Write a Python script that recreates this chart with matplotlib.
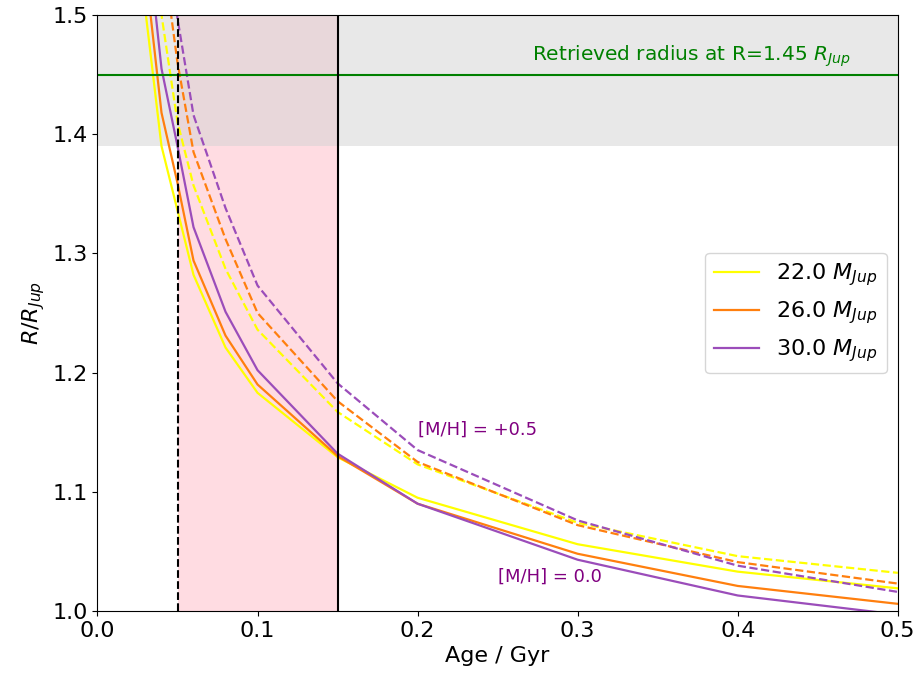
import numpy as np
import matplotlib
matplotlib.use('Agg')
import matplotlib.pyplot as plt

# --- model grid (age in Gyr) ---
ages = [0.03, 0.04, 0.05, 0.06, 0.08, 0.10, 0.15, 0.20, 0.30, 0.40, 0.50]

# solar metallicity [M/H] = 0.0
r22_solar = [1.503, 1.390, 1.336, 1.282, 1.221, 1.183, 1.129, 1.095, 1.056, 1.033, 1.019]
r26_solar = [1.538, 1.418, 1.359, 1.294, 1.231, 1.190, 1.130, 1.090, 1.048, 1.021, 1.006]
r30_solar = [1.580, 1.455, 1.390, 1.322, 1.251, 1.202, 1.132, 1.090, 1.043, 1.013, 0.997]

# metal rich [M/H] = +0.5
r22_rich = [1.600, 1.500, 1.410, 1.357, 1.287, 1.236, 1.167, 1.123, 1.074, 1.046, 1.032]
r26_rich = [1.660, 1.560, 1.460, 1.385, 1.312, 1.250, 1.176, 1.125, 1.072, 1.041, 1.023]
r30_rich = [1.720, 1.600, 1.497, 1.416, 1.338, 1.273, 1.191, 1.135, 1.076, 1.038, 1.016]

masas = ['22.0', '26.0', '30.0']
colores = ['#ffff00', '#ff7f0e', '#9b4dba']

r_retrieved = 1.45
r_low = 1.39
age_min, age_max = 0.05, 0.15

fig = plt.figure(figsize=(9.17, 6.8), dpi=100)
ax = fig.add_axes([0.1063, 0.1015, 0.8727, 0.8765])

# bandas (gris encima del rosa)
ax.axvspan(age_min, age_max, color='pink', alpha=0.55, lw=0)
ax.axhspan(r_low, 1.5, color='lightgray', alpha=0.5, lw=0)

solares = [r22_solar, r26_solar, r30_solar]
ricos = [r22_rich, r26_rich, r30_rich]
for m, c, rs, rr in zip(masas, colores, solares, ricos):
    ax.plot(ages, rs, color=c, lw=1.6, label=f'{m} $M_{{Jup}}$')
    ax.plot(ages, rr, color=c, lw=1.6, ls='--')

ax.axhline(r_retrieved, color='green', lw=1.5)
ax.text(0.2715, 1.4655, 'Retrieved radius at R=1.45 $R_{Jup}$', color='green',
        fontsize=14.5, ha='left', va='center')

ax.axvline(age_min, color='black', lw=1.5, ls='--')
ax.axvline(age_max, color='black', lw=1.5)

ax.text(0.2, 1.152, '[M/H] = +0.5', color='purple', fontsize=13, ha='left', va='center')
ax.text(0.25, 1.029, '[M/H] = 0.0', color='purple', fontsize=13, ha='left', va='center')

ax.set_xlim(0, 0.5)
ax.set_ylim(1.0, 1.5)
ax.set_xticks(np.arange(0, 0.51, 0.1))
ax.set_yticks(np.arange(1.0, 1.51, 0.1))
ax.tick_params(labelsize=16)
ax.set_xlabel('Age / Gyr', fontsize=16)
ax.set_ylabel('$R/R_{Jup}$', fontsize=16)

ax.legend(loc='center right', fontsize=16)

fig.savefig('out.png', dpi=100)
